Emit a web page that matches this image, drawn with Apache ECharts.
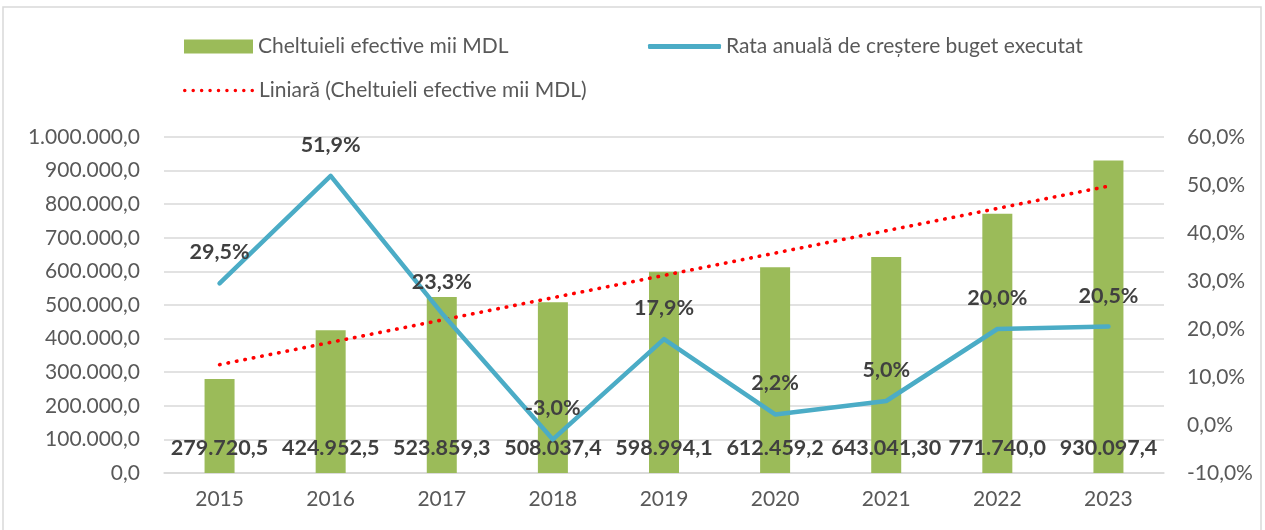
<!DOCTYPE html>
<html lang="ro">
<head>
    <meta charset="UTF-8">
    <title>Cheltuieli efective</title>
    <style>
        body { margin: 0; background: #fff; }
        #chart { width: 1265px; height: 530px; }
    </style>
</head>
<body>
<div id="chart"></div>
<script src="https://cdn.jsdelivr.net/npm/echarts@6/dist/echarts.min.js"></script>
<script>
    // date
    var years = ['2015', '2016', '2017', '2018', '2019', '2020', '2021', '2022', '2023'];
    var cheltuieli = [279720.5, 424952.5, 523859.3, 508037.4, 598994.1, 612459.2, 643041.30, 771740.0, 930097.4];
    var cheltuieliLabels = ['279.720,5', '424.952,5', '523.859,3', '508.037,4', '598.994,1', '612.459,2', '643.041,30', '771.740,0', '930.097,4'];
    var rata = [29.5, 51.9, 23.3, -3.0, 17.9, 2.2, 5.0, 20.0, 20.5];

    var numeBar = 'Cheltuieli efective mii MDL';
    var numeLinie = 'Rata anuală de creștere buget executat';
    var numeTrend = 'Liniară (Cheltuieli efective mii MDL)';

    var font = 'Lato';
    var grey = '#595959';
    var dark = '#404040';

    // tendinta liniara (cele mai mici patrate), ca in Excel
    function trendLinie(vals) {
        var n = vals.length, sx = 0, sy = 0, sxy = 0, sxx = 0;
        for (var i = 0; i < n; i++) {
            sx += i; sy += vals[i]; sxy += i * vals[i]; sxx += i * i;
        }
        var b = (n * sxy - sx * sy) / (n * sxx - sx * sx);
        var a = (sy - b * sx) / n;
        var out = [];
        for (var j = 0; j < n; j++) out.push(a + b * j);
        return out;
    }

    function formatMii(v) {
        var s = Math.round(v).toString().replace(/\B(?=(\d{3})+(?!\d))/g, '.');
        return s + ',0';
    }

    // iconita punctata pentru legenda
    var dotsPath = 'path://';
    for (var k = 0; k < 9; k++) {
        var cx = 1.8 + k * 8.6;
        dotsPath += 'M' + (cx + 1.8) + ',1.8 A1.8,1.8 0 1,0 ' + (cx - 1.8) + ',1.8 A1.8,1.8 0 1,0 ' + (cx + 1.8) + ',1.8 Z ';
    }

    var myChart = echarts.init(document.getElementById('chart'));
    var option = {
        animation: false,
        textStyle: { fontFamily: font },
        graphic: [{
            type: 'rect',
            shape: { x: 3, y: 7, width: 1258, height: 540 },
            style: { fill: 'none', stroke: '#d9d9d9', lineWidth: 1.5 },
            silent: true
        }],
        legend: [{
            data: [numeBar],
            left: 179, top: 31,
            icon: 'rect',
            itemWidth: 69, itemHeight: 14,
            textStyle: { color: grey, fontSize: 21, fontFamily: font }
        }, {
            data: [numeLinie],
            left: 643, top: 31,
            icon: 'roundRect',
            itemWidth: 73, itemHeight: 5,
            textStyle: { color: grey, fontSize: 21, fontFamily: font }
        }, {
            data: [numeTrend],
            left: 178, top: 75,
            icon: dotsPath,
            itemWidth: 71, itemHeight: 3.6,
            textStyle: { color: grey, fontSize: 21, fontFamily: font }
        }],
        grid: { left: 164, right: 101, top: 137, bottom: 57 },
        xAxis: {
            type: 'category',
            data: years,
            axisTick: { show: false },
            axisLine: { lineStyle: { color: '#d9d9d9', width: 1.5 } },
            axisLabel: { color: grey, fontSize: 21, margin: 16, fontFamily: font }
        },
        yAxis: [{
            type: 'value',
            min: 0, max: 1000000, interval: 100000,
            axisLabel: { color: grey, fontSize: 21, margin: 24, fontFamily: font, formatter: formatMii },
            splitLine: { lineStyle: { color: '#d9d9d9', width: 1.5 } }
        }, {
            type: 'value',
            min: -10, max: 60, interval: 10,
            position: 'right',
            axisLabel: {
                color: grey, fontSize: 21, margin: 23, fontFamily: font,
                formatter: function (v) { return v.toFixed(1).replace('.', ',') + '%'; }
            },
            splitLine: { show: false }
        }],
        series: [{
            name: numeBar,
            type: 'bar',
            data: cheltuieli,
            barWidth: 30,
            itemStyle: { color: '#9BBB59' },
            label: {
                show: true,
                position: 'insideBottom',
                distance: 14,
                color: dark,
                fontSize: 21.5,
                fontWeight: 'bold',
                fontFamily: font,
                formatter: function (p) { return cheltuieliLabels[p.dataIndex]; }
            },
            z: 2
        }, {
            name: numeLinie,
            type: 'line',
            yAxisIndex: 1,
            data: rata,
            symbol: 'circle',
            symbolSize: 0,
            showSymbol: true,
            itemStyle: { color: '#4BACC6' },
            lineStyle: { color: '#4BACC6', width: 4.5, cap: 'round', join: 'round' },
            label: {
                show: true,
                position: 'top',
                distance: 20,
                color: dark,
                fontSize: 21.5,
                fontWeight: 'bold',
                fontFamily: font,
                formatter: function (p) { return p.value.toFixed(1).replace('.', ',') + '%'; }
            },
            z: 4
        }, {
            name: numeTrend,
            type: 'line',
            data: trendLinie(cheltuieli),
            symbol: 'none',
            itemStyle: { color: '#FF0000' },
            lineStyle: { color: '#FF0000', width: 3.6, type: [0.5, 8.1], cap: 'round' },
            z: 3
        }]
    };
    myChart.setOption(option);
</script>
</body>
</html>
